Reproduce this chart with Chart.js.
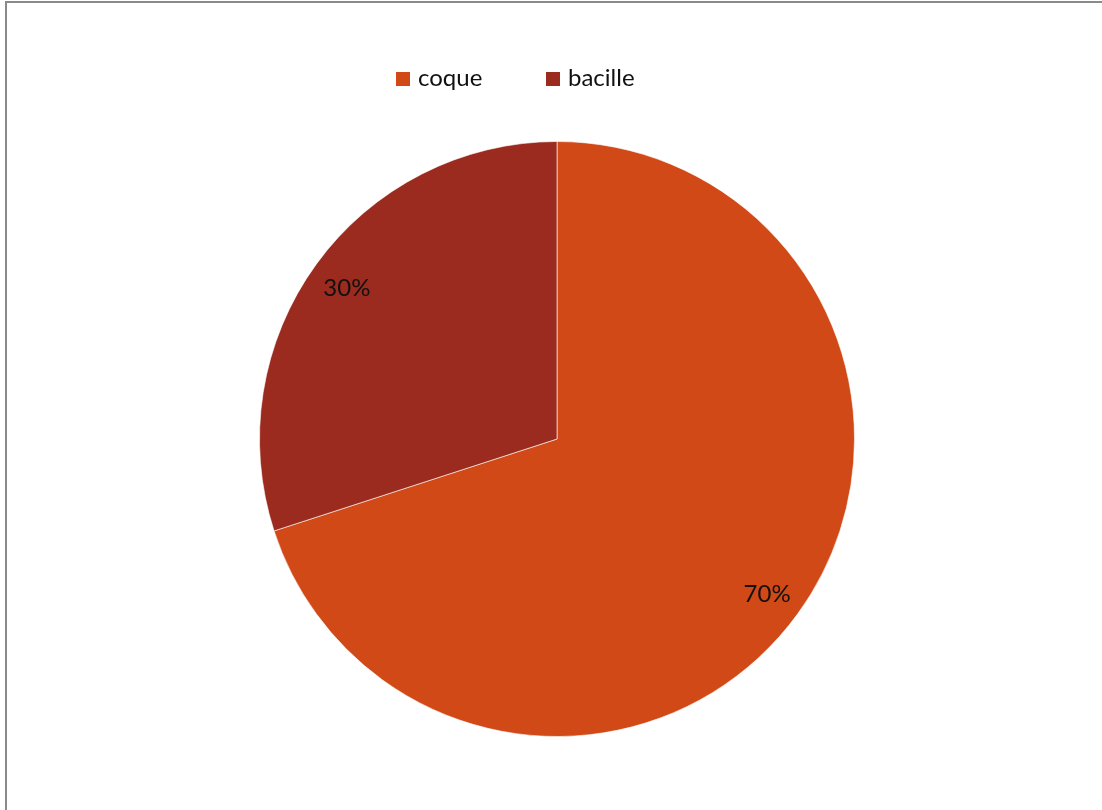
<!DOCTYPE html>
<html>
<head>
<meta charset="utf-8">
<script src="https://cdn.jsdelivr.net/npm/chart.js@4/dist/chart.umd.min.js"></script>
<style>
  html, body { margin: 0; padding: 0; background: #fff; overflow: hidden; }
  #wrap { position: relative; width: 1102px; height: 810px; }
  #frame { position: absolute; left: 5px; top: 1px; width: 1200px; height: 900px; border-left: 2px solid #8a8a8a; border-top: 2px solid #8a8a8a; box-sizing: border-box; }
  #c { position: absolute; left: 0; top: 0; }
  .lg-box { position: absolute; width: 14px; height: 14px; }
  .lg-text { position: absolute; font-family: Lato, "Open Sans", sans-serif; font-size: 24px; line-height: 24px; color: #111; white-space: nowrap; }
</style>
</head>
<body>
<div id="wrap">
  <div id="frame"></div>
  <canvas id="c" width="1102" height="810"></canvas>
  <div id="legend"></div>
</div>
<script>
const categories = ["coque", "bacille"];
const values = [70, 30];
const colors = ["#D24918", "#9B2B1F"];

const labelPlugin = {
  id: 'pctLabels',
  afterDatasetsDraw(chart) {
    const ctx = chart.ctx;
    const meta = chart.getDatasetMeta(0);
    const total = values.reduce((a, b) => a + b, 0);
    ctx.save();
    ctx.font = '24px Lato, "Open Sans", sans-serif';
    ctx.fillStyle = '#111';
    ctx.textAlign = 'center';
    ctx.textBaseline = 'alphabetic';
    meta.data.forEach((arc, i) => {
      const p = arc.getProps(['x', 'y', 'startAngle', 'endAngle', 'outerRadius'], true);
      const mid = (p.startAngle + p.endAngle) / 2;
      const r = p.outerRadius * 0.873;
      const x = p.x + Math.cos(mid) * r;
      const y = p.y + Math.sin(mid) * r;
      ctx.fillText(Math.round(values[i] / total * 100) + '%', x, y + 10);
    });
    ctx.restore();
  }
};

const chart = new Chart(document.getElementById('c'), {
  type: 'pie',
  data: {
    labels: categories,
    datasets: [{
      data: values,
      backgroundColor: colors,
      borderColor: 'rgba(255,255,255,0.6)',
      borderWidth: 1
    }]
  },
  options: {
    responsive: false,
    devicePixelRatio: 1,
    animation: false,
    layout: { padding: { left: 259, right: 247, top: 141, bottom: 73 } },
    plugins: {
      legend: { display: false },
      tooltip: { enabled: false }
    }
  },
  plugins: [labelPlugin]
});

// HTML legend built from the chart's own legend items
const legendEl = document.getElementById('legend');
const items = Chart.overrides.pie.plugins.legend.labels.generateLabels(chart);
const boxX = [396, 546];
const textX = [418, 568];
items.forEach((it, i) => {
  const b = document.createElement('div');
  b.className = 'lg-box';
  b.style.left = boxX[i] + 'px';
  b.style.top = '72px';
  b.style.background = it.fillStyle;
  legendEl.appendChild(b);
  const t = document.createElement('div');
  t.className = 'lg-text';
  t.style.left = textX[i] + 'px';
  t.style.top = '65px';
  t.textContent = it.text;
  legendEl.appendChild(t);
});
</script>
</body>
</html>
